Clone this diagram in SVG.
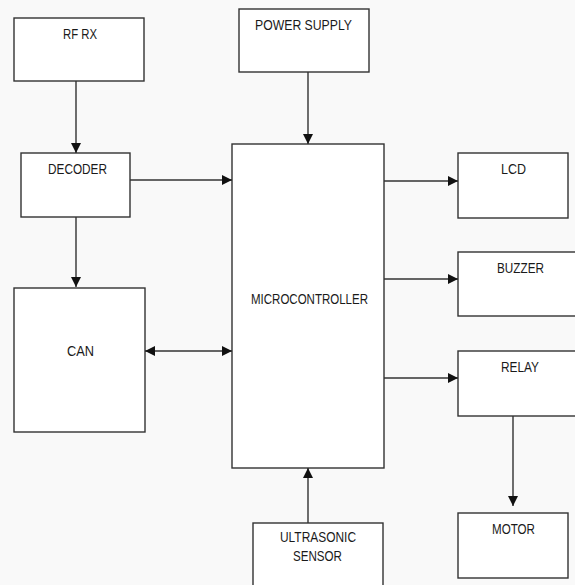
<svg xmlns="http://www.w3.org/2000/svg" width="575" height="585" viewBox="0 0 575 585">
<style>
.box{fill:#fff;stroke:#333;stroke-width:1.4}
.lbl{font-family:"Liberation Sans Narrow","Liberation Sans",Arial,sans-serif;font-size:15px;fill:#1a1a1a;text-anchor:middle}
.wire{stroke:#333;stroke-width:1.4;fill:none}
</style>
<defs>
<marker id="ah" viewBox="0 0 10 10" refX="10" refY="5" markerWidth="10" markerHeight="10" markerUnits="userSpaceOnUse" orient="auto-start-reverse">
<path d="M0,0 L10,5 L0,10 Z" fill="#111"/>
</marker>
</defs>
<rect x="0" y="0" width="575" height="585" fill="#f9f9f9"/>
<g id="rfrx"><rect class="box" x="14" y="18" width="130" height="63"/><text class="lbl" x="80" y="39" textLength="34" lengthAdjust="spacingAndGlyphs">RF RX</text></g>
<g id="decoder"><rect class="box" x="21" y="153" width="109" height="64"/><text class="lbl" x="77.5" y="174" textLength="59" lengthAdjust="spacingAndGlyphs">DECODER</text></g>
<g id="can"><rect class="box" x="14" y="288" width="131" height="144"/><text class="lbl" x="80.5" y="356" textLength="27" lengthAdjust="spacingAndGlyphs">CAN</text></g>
<g id="power"><rect class="box" x="239" y="9" width="130" height="63"/><text class="lbl" x="303.5" y="30" textLength="97" lengthAdjust="spacingAndGlyphs">POWER SUPPLY</text></g>
<g id="mcu"><rect class="box" x="232" y="144" width="152" height="324"/><text class="lbl" x="309.5" y="304" textLength="117" lengthAdjust="spacingAndGlyphs">MICROCONTROLLER</text></g>
<g id="ultrasonic"><rect class="box" x="253" y="523" width="130" height="70"/><text class="lbl" x="318" y="542" textLength="76" lengthAdjust="spacingAndGlyphs">ULTRASONIC</text><text class="lbl" x="317.5" y="561" textLength="49" lengthAdjust="spacingAndGlyphs">SENSOR</text></g>
<g id="lcd"><rect class="box" x="458" y="153" width="110" height="65"/><text class="lbl" x="513.5" y="174" textLength="25" lengthAdjust="spacingAndGlyphs">LCD</text></g>
<g id="buzzer"><rect class="box" x="458" y="252" width="130" height="64"/><text class="lbl" x="520.5" y="273" textLength="47" lengthAdjust="spacingAndGlyphs">BUZZER</text></g>
<g id="relay"><rect class="box" x="458" y="351" width="130" height="65"/><text class="lbl" x="520" y="372" textLength="38" lengthAdjust="spacingAndGlyphs">RELAY</text></g>
<g id="motor"><rect class="box" x="458" y="513" width="110" height="65"/><text class="lbl" x="513.5" y="534" textLength="43" lengthAdjust="spacingAndGlyphs">MOTOR</text></g>
<g id="connectors">
<line class="wire" x1="76" y1="81" x2="76" y2="153" marker-end="url(#ah)"/>
<line class="wire" x1="76" y1="217" x2="76" y2="287" marker-end="url(#ah)"/>
<line class="wire" x1="130" y1="180" x2="232" y2="180" marker-end="url(#ah)"/>
<line class="wire" x1="145" y1="351" x2="232" y2="351" marker-start="url(#ah)" marker-end="url(#ah)"/>
<line class="wire" x1="308" y1="72" x2="308" y2="144" marker-end="url(#ah)"/>
<line class="wire" x1="308" y1="523" x2="308" y2="468" marker-end="url(#ah)"/>
<line class="wire" x1="384" y1="181" x2="458" y2="181" marker-end="url(#ah)"/>
<line class="wire" x1="384" y1="279" x2="458" y2="279" marker-end="url(#ah)"/>
<line class="wire" x1="384" y1="378" x2="458" y2="378" marker-end="url(#ah)"/>
<line class="wire" x1="513" y1="416" x2="513" y2="506" marker-end="url(#ah)"/>
</g>
</svg>
